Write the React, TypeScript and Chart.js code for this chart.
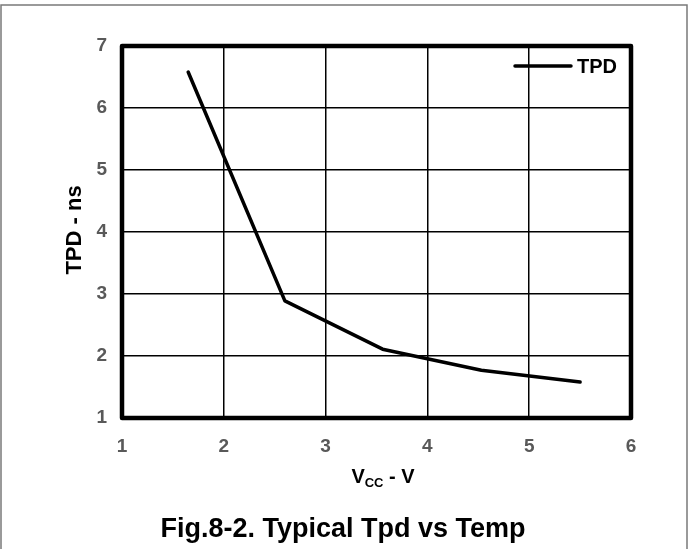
import React, { useEffect, useRef } from "react";
import { Chart, registerables } from "chart.js";

Chart.register(...registerables);

const seriesLabel = "TPD";
const vccValues = [1.65, 2.6, 3.56, 4.53, 5.5];
const tpdValues = [6.58, 2.89, 2.11, 1.77, 1.58];
const xTickValues = [1, 2, 3, 4, 5, 6];
const yTickValues = [1, 2, 3, 4, 5, 6, 7];
const yTitle = "TPD - ns";
const xTitleMain = "V";
const xTitleSub = "CC";
const xTitleRest = " - V";
const caption = "Fig.8-2. Typical Tpd vs Temp";

const FONT = "'Liberation Sans', Arial, sans-serif";

const decorPlugin = {
  id: "decor",
  beforeDraw(chart: any) {
    const ctx = chart.ctx;
    ctx.save();
    ctx.strokeStyle = "#7a7a7a";
    ctx.lineWidth = 1.5;
    ctx.beginPath();
    ctx.moveTo(1, 549);
    ctx.lineTo(1, 5);
    ctx.lineTo(687, 5);
    ctx.lineTo(687, 549);
    ctx.stroke();
    ctx.restore();
  },
  afterDraw(chart: any) {
    const ctx = chart.ctx;
    const { left, top, right, bottom } = chart.chartArea;
    ctx.save();
    // frame
    ctx.strokeStyle = "#000";
    ctx.lineWidth = 4.5;
    ctx.lineJoin = "round";
    ctx.strokeRect(left, top, right - left, bottom - top);

    // legend
    const ds = chart.data.datasets[0];
    ctx.lineWidth = 3.5;
    ctx.lineCap = "round";
    ctx.beginPath();
    ctx.moveTo(right - 116, top + 20);
    ctx.lineTo(right - 60, top + 20);
    ctx.stroke();
    ctx.fillStyle = "#000";
    ctx.font = `bold 20px ${FONT}`;
    ctx.textAlign = "left";
    ctx.textBaseline = "middle";
    ctx.fillText(ds.label, right - 54, top + 21);

    // y title
    ctx.save();
    ctx.translate(75, (top + bottom) / 2 - 2);
    ctx.rotate(-Math.PI / 2);
    ctx.font = `bold 22px ${FONT}`;
    ctx.textAlign = "center";
    ctx.textBaseline = "middle";
    ctx.fillText(yTitle, 0, 0);
    ctx.restore();

    // x title with subscript
    const big = `bold 20px ${FONT}`;
    const small = `bold 13px ${FONT}`;
    ctx.font = big;
    const w1 = ctx.measureText(xTitleMain).width;
    const w3 = ctx.measureText(xTitleRest).width;
    ctx.font = small;
    const w2 = ctx.measureText(xTitleSub).width;
    const total = w1 + w2 + w3;
    let x = 383 - total / 2;
    const yBase = 483;
    ctx.textAlign = "left";
    ctx.textBaseline = "alphabetic";
    ctx.font = big;
    ctx.fillText(xTitleMain, x, yBase);
    x += w1;
    ctx.font = small;
    ctx.fillText(xTitleSub, x, yBase + 4);
    x += w2;
    ctx.font = big;
    ctx.fillText(xTitleRest, x, yBase);

    // caption
    ctx.font = `bold 27px ${FONT}`;
    ctx.textAlign = "center";
    ctx.textBaseline = "alphabetic";
    ctx.fillText(caption, 343, 537);
    ctx.restore();
  },
};

export default function App() {
  const canvasRef = useRef<HTMLCanvasElement | null>(null);

  useEffect(() => {
    document.body.style.margin = "0";
    const canvas = canvasRef.current;
    if (!canvas) return;
    const chart = new Chart(canvas, {
      type: "line",
      data: {
        datasets: [
          {
            label: seriesLabel,
            data: vccValues.map((v, i) => ({ x: v, y: tpdValues[i] })),
            borderColor: "#000",
            borderWidth: 3.5,
            pointRadius: 0,
            tension: 0,
            fill: false,
            borderCapStyle: "round",
            borderJoinStyle: "round",
          },
        ],
      },
      options: {
        animation: false,
        responsive: false,
        devicePixelRatio: 1,
        layout: { padding: { left: 0, top: 46, right: 60, bottom: 0 } },
        plugins: {
          legend: { display: false },
          tooltip: { enabled: false },
        },
        scales: {
          x: {
            type: "linear",
            min: 1,
            max: 6,
            afterFit(scale: any) {
              scale.height = 131;
            },
            afterBuildTicks(scale: any) {
              scale.ticks = xTickValues.map((v) => ({ value: v }));
            },
            ticks: {
              color: "#595959",
              font: { family: FONT, size: 19, weight: "bold" },
              padding: 17,
              maxRotation: 0,
            },
            grid: { color: "#000", lineWidth: 1.5, drawTicks: false },
            border: { display: false },
          },
          y: {
            type: "linear",
            min: 1,
            max: 7,
            afterFit(scale: any) {
              scale.width = 122;
            },
            afterBuildTicks(scale: any) {
              scale.ticks = yTickValues.map((v) => ({ value: v }));
            },
            ticks: {
              color: "#595959",
              font: { family: FONT, size: 19, weight: "bold" },
              padding: 15,
            },
            grid: { color: "#000", lineWidth: 1.5, drawTicks: false },
            border: { display: false },
          },
        },
      },
      plugins: [decorPlugin],
    });
    return () => chart.destroy();
  }, []);

  return (
    <div style={{ width: 691, height: 549, position: "relative", background: "#fff" }}>
      <canvas ref={canvasRef} width={691} height={549} style={{ display: "block" }} />
    </div>
  );
}
